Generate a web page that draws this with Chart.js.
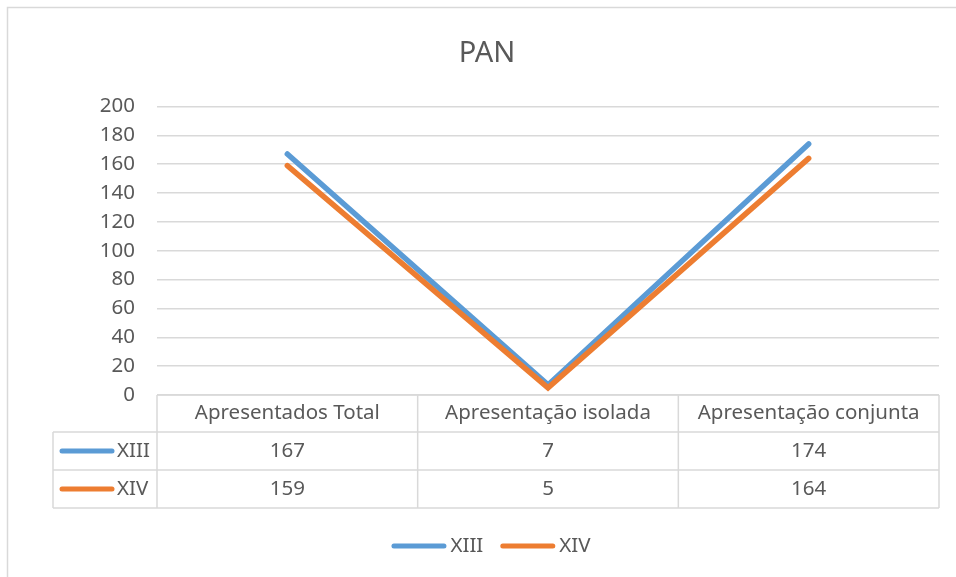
<!DOCTYPE html>
<html>
<head>
<meta charset="utf-8">
<script src="https://cdn.jsdelivr.net/npm/chart.js@4/dist/chart.umd.min.js"></script>
<style>
  html, body { margin: 0; padding: 0; background: #ffffff; }
  #wrap { width: 956px; height: 577px; position: relative; }
</style>
</head>
<body>
<div id="wrap"><canvas id="c" width="956" height="577"></canvas></div>
<script>
const chartTitle = 'PAN';
const categories = ['Apresentados Total', 'Apresentação isolada', 'Apresentação conjunta'];
const seriesNames = ['XIII', 'XIV'];
const seriesXIII = [167, 7, 174];
const seriesXIV = [159, 5, 164];
const seriesColors = ['#5B9BD5', '#ED7D31'];
const yMin = 0, yMax = 200, yStep = 20;

const FONT = "'Noto Sans', 'Open Sans', sans-serif";
const TEXT = '#595959';
const GRID = '#d9d9d9';
const LABEL_SIZE = 20.5;

const tablePlugin = {
  id: 'dataTable',
  beforeDraw(chart) {
    const ctx = chart.ctx;
    ctx.save();
    ctx.strokeStyle = GRID;
    ctx.lineWidth = 1.5;
    ctx.strokeRect(7.5, 7.5, 1100, 1100);
    ctx.restore();
  },
  afterDraw(chart) {
    const ctx = chart.ctx;
    const area = chart.chartArea;
    const xs = chart.scales.x;
    const n = categories.length;
    const bounds = [];
    for (let i = 0; i <= n; i++) bounds.push(xs.getPixelForValue(i - 0.5));
    const top = area.bottom;
    const headerH = 37, rowH = 38;
    const labelLeft = 53;
    const rowsTop = top + headerH;
    const bottom = rowsTop + rowH * seriesNames.length;
    const allData = [seriesXIII, seriesXIV];

    ctx.save();
    ctx.strokeStyle = GRID;
    ctx.lineWidth = 1.5;
    ctx.beginPath();
    ctx.moveTo(bounds[0], top); ctx.lineTo(bounds[n], top);
    for (let r = 0; r <= seriesNames.length; r++) {
      const y = rowsTop + r * rowH;
      ctx.moveTo(labelLeft, y); ctx.lineTo(bounds[n], y);
    }
    for (let i = 0; i <= n; i++) {
      ctx.moveTo(bounds[i], top); ctx.lineTo(bounds[i], bottom);
    }
    ctx.moveTo(labelLeft, rowsTop); ctx.lineTo(labelLeft, bottom);
    ctx.stroke();

    ctx.fillStyle = TEXT;
    ctx.font = LABEL_SIZE + 'px ' + FONT;
    ctx.textAlign = 'center';
    ctx.textBaseline = 'middle';
    for (let i = 0; i < n; i++) {
      const cx = (bounds[i] + bounds[i + 1]) / 2;
      ctx.fillText(categories[i], cx, top + headerH / 2);
      for (let r = 0; r < seriesNames.length; r++) {
        ctx.fillText(String(allData[r][i]), cx, rowsTop + r * rowH + rowH / 2);
      }
    }
    ctx.lineCap = 'round';
    ctx.lineWidth = 5;
    for (let r = 0; r < seriesNames.length; r++) {
      const cy = rowsTop + r * rowH + rowH / 2;
      ctx.strokeStyle = seriesColors[r];
      ctx.beginPath();
      ctx.moveTo(62, cy); ctx.lineTo(112, cy);
      ctx.stroke();
      ctx.textAlign = 'left';
      ctx.fillText(seriesNames[r], 117, cy);
    }

    const lineLen = 55, gap = 4, itemGap = 17;
    const widths = seriesNames.map(s => ctx.measureText(s).width);
    let total = 0;
    widths.forEach((w, i) => { total += lineLen + gap + w + (i ? itemGap : 0); });
    let x = 491 - total / 2;
    const ly = 546;
    seriesNames.forEach((s, i) => {
      ctx.strokeStyle = seriesColors[i];
      ctx.beginPath();
      ctx.moveTo(x + 2.5, ly); ctx.lineTo(x + lineLen - 2.5, ly);
      ctx.stroke();
      ctx.fillText(s, x + lineLen + gap, ly);
      x += lineLen + gap + widths[i] + itemGap;
    });
    ctx.restore();
  }
};

new Chart(document.getElementById('c'), {
  type: 'line',
  data: {
    labels: categories,
    datasets: [
      { label: seriesNames[0], data: seriesXIII, borderColor: seriesColors[0], backgroundColor: seriesColors[0], order: 1 },
      { label: seriesNames[1], data: seriesXIV, borderColor: seriesColors[1], backgroundColor: seriesColors[1], order: 0 }
    ]
  },
  options: {
    responsive: false,
    animation: false,
    devicePixelRatio: 1,
    layout: { padding: { left: 35, right: 17, top: 0, bottom: 69 } },
    elements: {
      line: { borderWidth: 5.5, tension: 0, borderCapStyle: 'round', borderJoinStyle: 'miter', fill: false },
      point: { radius: 0, hoverRadius: 0 }
    },
    plugins: {
      legend: { display: false },
      tooltip: { enabled: false },
      title: {
        display: true,
        text: chartTitle,
        color: TEXT,
        font: { family: FONT, size: 29, weight: 'normal', lineHeight: 1.2 },
        padding: { top: 36, bottom: 35.6 }
      }
    },
    scales: {
      x: {
        type: 'category',
        offset: true,
        grid: { display: false },
        border: { display: false },
        ticks: { display: false },
        afterFit(s) { s.height = 113; }
      },
      y: {
        min: yMin, max: yMax,
        ticks: { stepSize: yStep, color: TEXT, font: { family: FONT, size: LABEL_SIZE }, padding: 22 },
        grid: { color: GRID, lineWidth: 1.5, drawTicks: false },
        border: { display: false },
        afterFit(s) { s.width = 122; }
      }
    }
  },
  plugins: [tablePlugin]
});
</script>
</body>
</html>
